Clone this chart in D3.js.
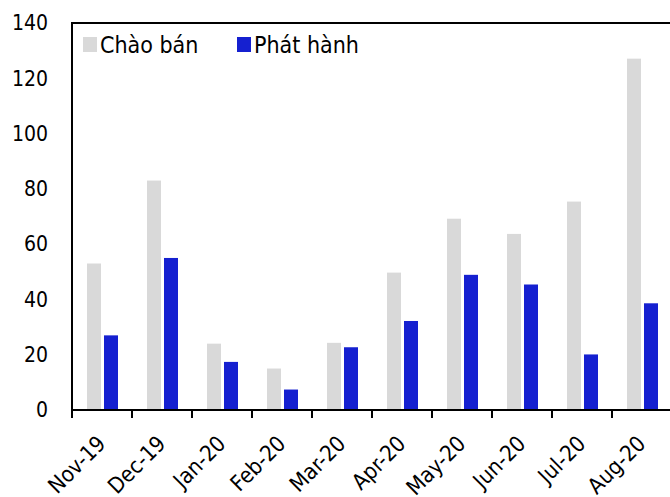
<!DOCTYPE html>
<html>
<head>
<meta charset="utf-8">
<script src="https://cdn.jsdelivr.net/npm/d3@7"></script>
<style>
  html, body { margin: 0; padding: 0; background: #fff; }
  svg { display: block; }
  svg text { font-family: "DejaVu Sans Condensed", "DejaVu Sans", sans-serif; font-stretch: condensed; fill: #000; }
</style>
</head>
<body>
<svg id="chart" width="670" height="497"></svg>
<script>
// Monthly corporate bond volumes: offered vs issued
const months = ["Nov-19", "Dec-19", "Jan-20", "Feb-20", "Mar-20", "Apr-20", "May-20", "Jun-20", "Jul-20", "Aug-20"];
const offered = [53, 83, 24, 15, 24.3, 49.7, 69.2, 63.7, 75.4, 127.1];
const issued = [27, 55, 17.4, 7.4, 22.7, 32.2, 48.9, 45.4, 20.1, 38.6];
const seriesNames = ["Chào bán", "Phát hành"];
const seriesColors = ["#d9d9d9", "#1520d0"];
const yTicks = [0, 20, 40, 60, 80, 100, 120, 140];

const svg = d3.select("#chart");
const plotLeft = 72, plotRight = 672, plotTop = 23, plotBottom = 410;

const x = d3.scaleBand().domain(months).range([plotLeft, plotRight]).paddingInner(0).paddingOuter(0);
const xs = d3.scaleBand().domain(seriesNames).range([15, 46]).paddingInner(0.176).paddingOuter(0);
const y = d3.scaleLinear().domain([0, 140]).range([plotBottom, plotTop]);

const rows = months.map((m, i) => ({ month: m, values: [offered[i], issued[i]] }));

// bars
const groups = svg.append("g").selectAll("g").data(rows).join("g")
  .attr("transform", d => `translate(${x(d.month)},0)`);
groups.selectAll("rect").data(d => d.values.map((v, k) => ({ k, v }))).join("rect")
  .attr("x", d => xs(seriesNames[d.k]))
  .attr("width", xs.bandwidth())
  .attr("y", d => y(d.v))
  .attr("height", d => y(0) - y(d.v))
  .attr("fill", d => seriesColors[d.k]);

// plot frame (right side falls outside the canvas)
svg.append("rect")
  .attr("x", plotLeft).attr("y", plotTop)
  .attr("width", plotRight - plotLeft).attr("height", plotBottom - plotTop)
  .attr("fill", "none").attr("stroke", "#000").attr("stroke-width", 2);

// y axis
const yAxis = svg.append("g").attr("transform", `translate(${plotLeft},0)`)
  .call(d3.axisLeft(y).tickValues(yTicks).tickSize(0).tickPadding(24));
yAxis.select(".domain").remove();
yAxis.attr("font-family", null).attr("font-size", null);
yAxis.selectAll("text").style("font-size", "21px");

// x tick marks at category boundaries
svg.append("g").selectAll("line").data(months).join("line")
  .attr("x1", d => x(d)).attr("x2", d => x(d))
  .attr("y1", plotBottom).attr("y2", plotBottom + 8)
  .attr("stroke", "#000").attr("stroke-width", 2);

// rotated category labels
svg.append("g").selectAll("text").data(months).join("text")
  .attr("transform", d => `translate(${x(d) + x.bandwidth() / 2 + 5},${plotBottom + 35}) rotate(-45)`)
  .attr("text-anchor", "end")
  .style("font-size", "22px")
  .text(d => d);

// legend
const legendX = [83, 237];
const legend = svg.append("g").selectAll("g").data(seriesNames).join("g")
  .attr("transform", (d, i) => `translate(${legendX[i]},37)`);
legend.append("rect").attr("width", 14).attr("height", 15)
  .attr("fill", (d, i) => seriesColors[i]);
legend.append("text").attr("x", 17).attr("y", 16)
  .style("font-size", "23px")
  .text(d => d);
</script>
</body>
</html>
